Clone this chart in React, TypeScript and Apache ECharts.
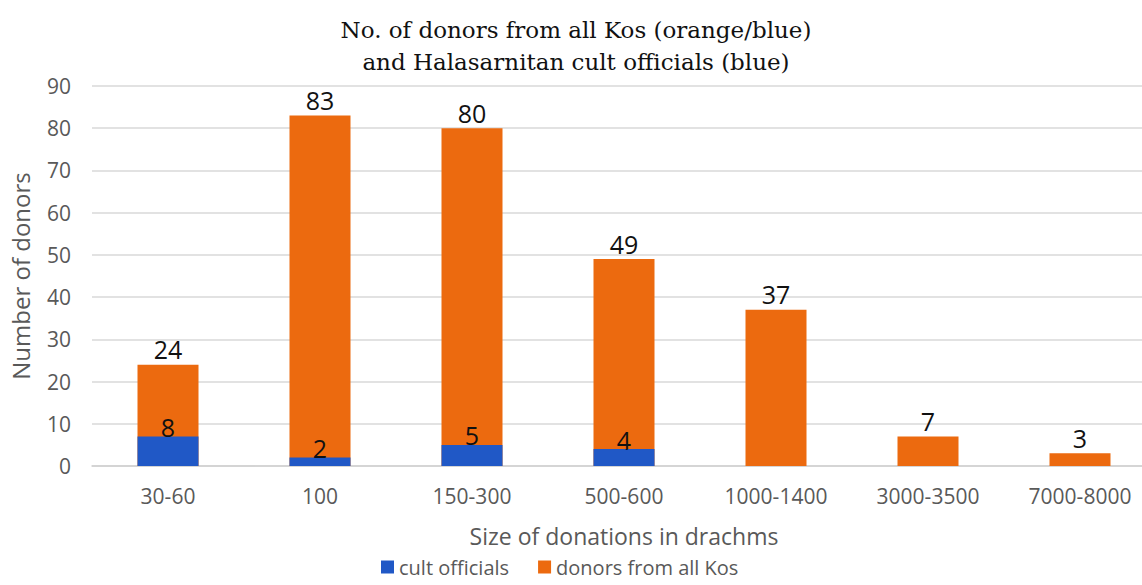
import React, { useEffect, useRef } from "react";
import * as echarts from "echarts";

const categories = ["30-60", "100", "150-300", "500-600", "1000-1400", "3000-3500", "7000-8000"];
const allKos = [24, 83, 80, 49, 37, 7, 3];
const cultOfficials = [7, 2, 5, 4, null, null, null];
const cultLabels = ["8", "2", "5", "4", "", "", ""];
const yTicks = { min: 0, max: 90, interval: 10 };

const ORANGE = "#EC6A0F";
const BLUE = "#2058C6";
const SANS = "'Open Sans', sans-serif";

export default function App() {
  const ref = useRef<HTMLDivElement>(null);
  useEffect(() => {
    if (!ref.current) return;
    const chart = echarts.init(ref.current, null, { renderer: "svg" });
    chart.setOption({
      animation: false,
      title: {
        text: "No. of donors from all Kos (orange/blue)\nand Halasarnitan cult officials (blue)",
        left: 571,
        textAlign: "center",
        top: 9,
        textStyle: {
          fontFamily: "'DejaVu Serif', serif",
          fontWeight: "normal",
          fontSize: 23,
          lineHeight: 32,
          color: "#111",
        },
      },
      legend: {
        top: 555,
        left: 381,
        padding: 0,
        itemWidth: 13,
        itemHeight: 13,
        itemGap: 29,
        icon: "rect",
        textStyle: { fontFamily: SANS, fontSize: 20, color: "#595959", lineHeight: 24 },
        data: ["cult officials", "donors from all Kos"],
      },
      grid: { left: 92, right: 0, top: 86, bottom: 119, containLabel: false },
      xAxis: {
        type: "category",
        data: categories,
        name: "Size of donations in drachms",
        nameLocation: "middle",
        nameGap: 58,
        nameTextStyle: { fontFamily: SANS, fontSize: 23, color: "#595959" },
        axisTick: { show: false },
        axisLine: { lineStyle: { color: "#d0d0d0", width: 1.5 } },
        axisLabel: { fontFamily: SANS, fontSize: 21, color: "#595959", margin: 19 },
      },
      yAxis: {
        type: "value",
        min: yTicks.min,
        max: yTicks.max,
        interval: yTicks.interval,
        name: "Number of donors",
        nameLocation: "middle",
        nameGap: 60,
        nameTextStyle: { fontFamily: SANS, fontSize: 24, color: "#595959" },
        axisLabel: { fontFamily: SANS, fontSize: 21, color: "#595959", margin: 21 },
        splitLine: { lineStyle: { color: "#d9d9d9", width: 1.5 } },
      },
      series: [
        {
          name: "donors from all Kos",
          type: "bar",
          data: allKos,
          barWidth: 61,
          z: 1,
          itemStyle: { color: ORANGE },
          label: {
            show: true,
            position: "top",
            distance: 3,
            fontFamily: SANS,
            fontSize: 25,
            color: "#111",
          },
        },
        {
          name: "cult officials",
          type: "bar",
          data: cultOfficials,
          barWidth: 61,
          barGap: "-100%",
          z: 2,
          itemStyle: { color: BLUE },
          label: {
            show: true,
            position: "top",
            distance: -3,
            fontFamily: SANS,
            fontSize: 25,
            color: "#111",
            formatter: (p: any) => cultLabels[p.dataIndex],
          },
        },
      ],
    });
    return () => chart.dispose();
  }, []);
  return (
    <div style={{ position: "fixed", left: 0, top: 0, width: 1142, height: 585, overflow: "hidden", background: "#fff" }}>
      <div ref={ref} style={{ width: 1156, height: 585 }} />
    </div>
  );
}
